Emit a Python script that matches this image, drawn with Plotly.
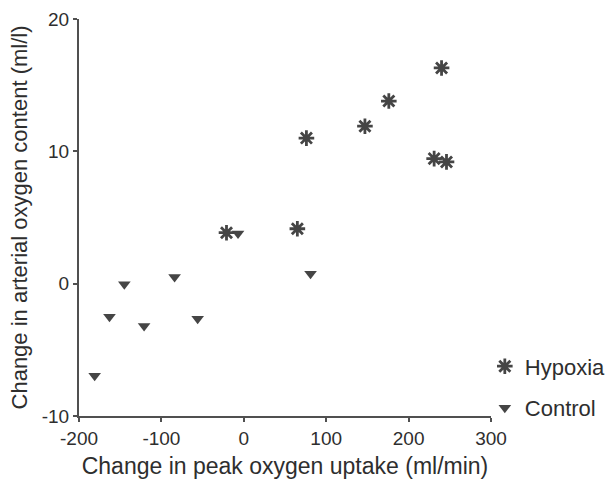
import plotly.graph_objects as go

hypoxia_x = [240, 176, 147, 76, 231, 246, -21, 65]
hypoxia_y = [16.3, 13.8, 11.9, 11.0, 9.45, 9.2, 3.85, 4.15]

control_x = [-181, -163, -145, -121, -84, -56, -7, 81]
control_y = [-6.95, -2.5, -0.05, -3.2, 0.5, -2.65, 3.8, 0.75]

x_ticks = [-200, -100, 0, 100, 200, 300]
x_tick_text = ["-200", "-100", "0", "100", "200", "300"]
y_ticks = [-10, 0, 10, 20]
y_tick_text = ["-10", "0", "10", "20"]

ink = "#454545"
text_col = "#2e2e2e"
font = "Liberation Sans, Arial, sans-serif"

fig = go.Figure()
fig.add_trace(go.Scatter(
    x=hypoxia_x, y=hypoxia_y, mode="markers", name="Hypoxia", legendgroup="h",
    marker=dict(symbol="asterisk-open", size=13, color=ink, line=dict(color=ink, width=2.8)),
))
fig.add_trace(go.Scatter(
    x=control_x, y=control_y, mode="markers", name="Control", legendgroup="c",
    marker=dict(symbol="triangle-down", size=11, color=ink, line=dict(width=0)),
))

axis_common = dict(
    showline=True, linecolor="#505050", linewidth=2, mirror=False,
    ticks="outside", ticklen=4, tickwidth=1.5, tickcolor="#505050",
    showgrid=False, zeroline=False,
    tickfont=dict(family=font, size=19, color=text_col),
)

fig.update_layout(
    width=612, height=494,
    margin=dict(l=79, r=121, t=19, b=78, autoexpand=False),
    paper_bgcolor="white", plot_bgcolor="white",
    xaxis=dict(range=[-200, 300], tickvals=x_ticks, ticktext=x_tick_text, **axis_common,
               title=dict(text="Change in peak oxygen uptake (ml/min)",
                          font=dict(family=font, size=23, color=text_col), standoff=10)),
    yaxis=dict(range=[-10, 20], tickvals=y_ticks, ticktext=y_tick_text, **axis_common,
               title=dict(text="Change in arterial oxygen content (ml/l)",
                          font=dict(family=font, size=22, color=text_col), standoff=8)),
    legend=dict(x=0.985, y=0.072, xanchor="left", yanchor="middle",
                font=dict(family=font, size=22, color=text_col),
                tracegroupgap=10, itemwidth=30, bgcolor="rgba(0,0,0,0)"),
    showlegend=True,
)

fig.write_html("out.html")
